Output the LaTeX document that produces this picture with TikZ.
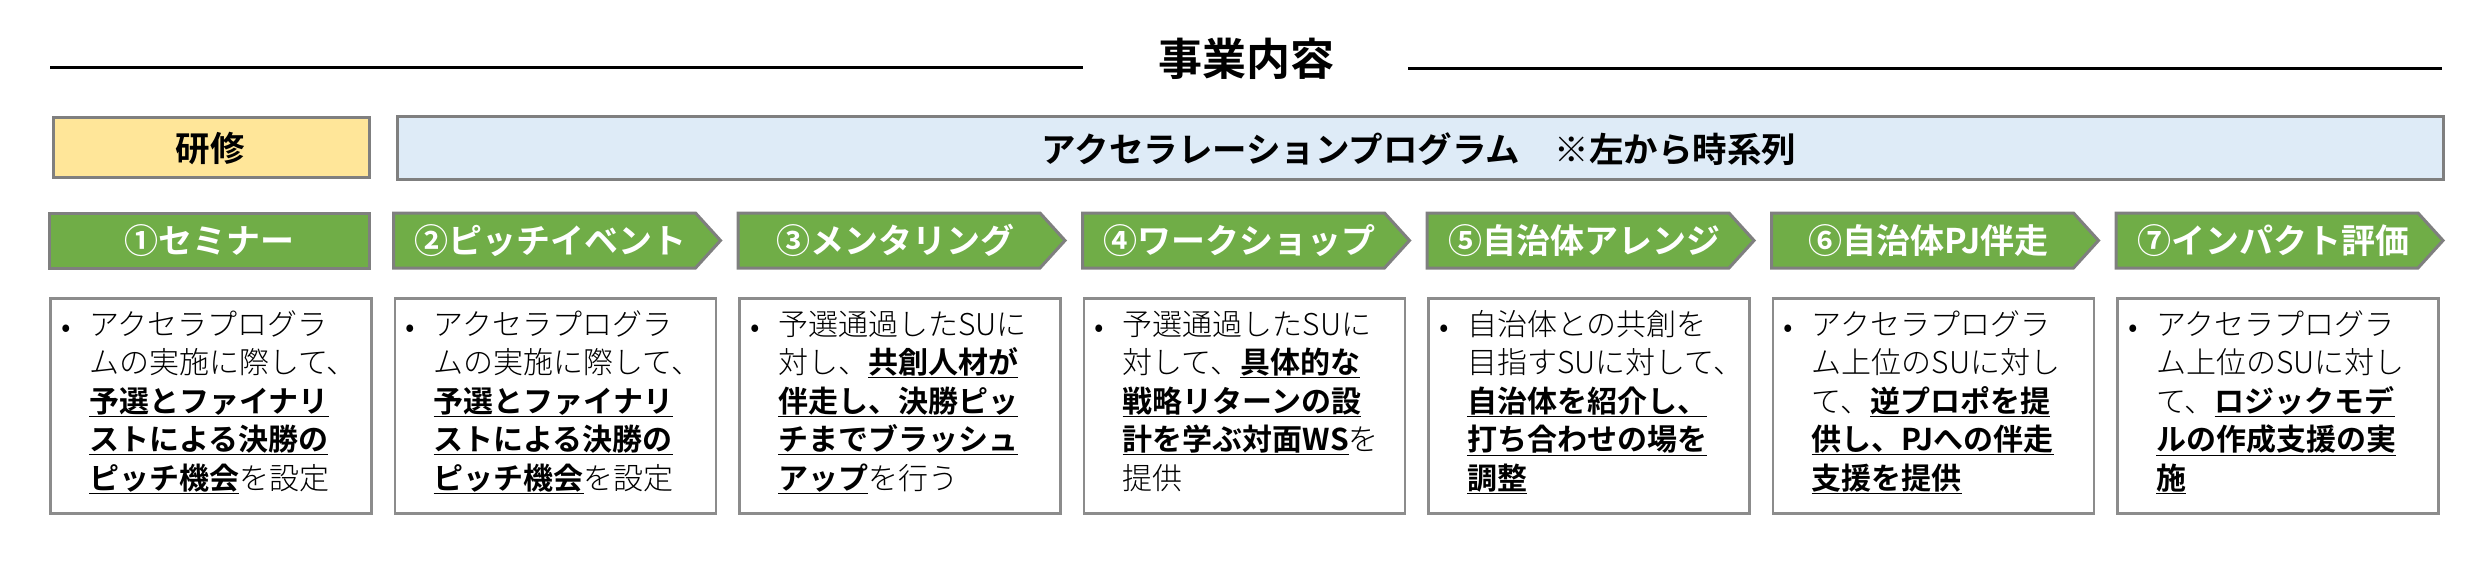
\documentclass[tikz,border=0pt]{standalone}
\usepackage{fontspec}
\setmainfont{Noto Sans CJK JP}[UprightFont=* Light, BoldFont=* Bold]
\newfontfamily\hdrfont{Noto Sans CJK JP}[UprightFont=* Bold, BoldFont=* Bold]
\definecolor{ygold}{HTML}{FFE699}
\definecolor{lblue}{HTML}{DEEBF7}
\definecolor{ggreen}{HTML}{70AD47}
\definecolor{bgray}{HTML}{7F7F7F}
\definecolor{dgray}{HTML}{8C8C8C}
\newcommand\ub[1]{\underline{\textbf{#1}}}
\newcommand\chevlabel[3]{%
  \draw[chev] (#2,213) -- ({#2+302},213) -- ({#2+327},240.5) -- ({#2+302},268) -- (#2,268) -- cycle;
  \node[gtext] (g#1) at ({#2+157},240.5) {#3};}
\newcommand\desccol[3]{%
  \node[descbox, anchor=north west] (d#1) at (#2,297) {};
  \node[desctext] (b#1) at ({#2+12},337) {•};
  \node[desctext] (t#1) at ({#2+40},335) {\begin{tabular}[t]{@{}l@{}}#3\end{tabular}};}
\begin{document}
\begin{tikzpicture}[x=1pt,y=-1pt,
  hdrbox/.style={draw=bgray, line width=3pt, inner sep=0pt},
  chev/.style={draw=bgray, line width=3pt, fill=ggreen, line join=miter},
  gtext/.style={text=white, inner sep=0pt, font=\fontsize{34}{40}\selectfont\hdrfont},
  htext/.style={inner sep=0pt, font=\fontsize{34.5}{40}\selectfont\hdrfont},
  descbox/.style={draw=dgray, line width=2.5pt, fill=white, minimum width=321pt, minimum height=215pt, inner sep=0pt},
  desctext/.style={anchor=base west, inner sep=0pt, font=\fontsize{30}{38.5}\selectfont},
  rule/.style={line width=3pt, black}]
\useasboundingbox (0,0) rectangle (2488,572);
% title
\node[inner sep=0pt, font=\fontsize{44}{50}\selectfont\hdrfont] (title) at (1246.5,58.5) {事業内容};
\coordinate (la) at (50,68);
\coordinate (lb) at (1083,68);
\coordinate (ra) at (1408,69);
\coordinate (rb) at (2442,69);
\draw[rule] (la) -- (lb);
\draw[rule] (ra) -- (rb);
% header boxes
\node[hdrbox, fill=ygold, anchor=north west, minimum width=316pt, minimum height=60pt] (kenshu) at (52,116) {};
\node[htext] (kenshutext) at (210,149) {研修};
\node[hdrbox, fill=lblue, anchor=north west, minimum width=2046pt, minimum height=63pt] (accel) at (396,115) {};
\node[htext] (acceltext) at (1419,149.5) {アクセラレーションプログラム　※左から時系列};
% green labels
\draw[chev] (49,213) rectangle (369,268);
\node[gtext] (g1) at (209,240.5) {①セミナー};
\chevlabel{2}{393.5}{②ピッチイベント}
\chevlabel{3}{738}{③メンタリング}
\chevlabel{4}{1082.5}{④ワークショップ}
\chevlabel{5}{1427}{⑤自治体アレンジ}
\chevlabel{6}{1771.5}{⑥自治体PJ伴走}
\chevlabel{7}{2116}{⑦インパクト評価}
% descriptions
\desccol{1}{49}{アクセラプログラ\\ムの実施に際して、\\\ub{予選とファイナリ}\\\ub{ストによる決勝の}\\\ub{ピッチ機会}を設定}
\desccol{2}{393.5}{アクセラプログラ\\ムの実施に際して、\\\ub{予選とファイナリ}\\\ub{ストによる決勝の}\\\ub{ピッチ機会}を設定}
\desccol{3}{738}{予選通過したSUに\\対し、\ub{共創人材が}\\\ub{伴走し、決勝ピッ}\\\ub{チまでブラッシュ}\\\ub{アップ}を行う}
\desccol{4}{1082.5}{予選通過したSUに\\対して、\ub{具体的な}\\\ub{戦略リターンの設}\\\ub{計を学ぶ対面WS}を\\提供}
\desccol{5}{1427}{自治体との共創を\\目指すSUに対して、\\\ub{自治体を紹介し、}\\\ub{打ち合わせの場を}\\\ub{調整}}
\desccol{6}{1771.5}{アクセラプログラ\\ム上位のSUに対し\\て、\ub{逆プロポを提}\\\ub{供し、PJへの伴走}\\\ub{支援を提供}}
\desccol{7}{2116}{アクセラプログラ\\ム上位のSUに対し\\て、\ub{ロジックモデ}\\\ub{ルの作成支援の実}\\\ub{施}}
\end{tikzpicture}
\end{document}
